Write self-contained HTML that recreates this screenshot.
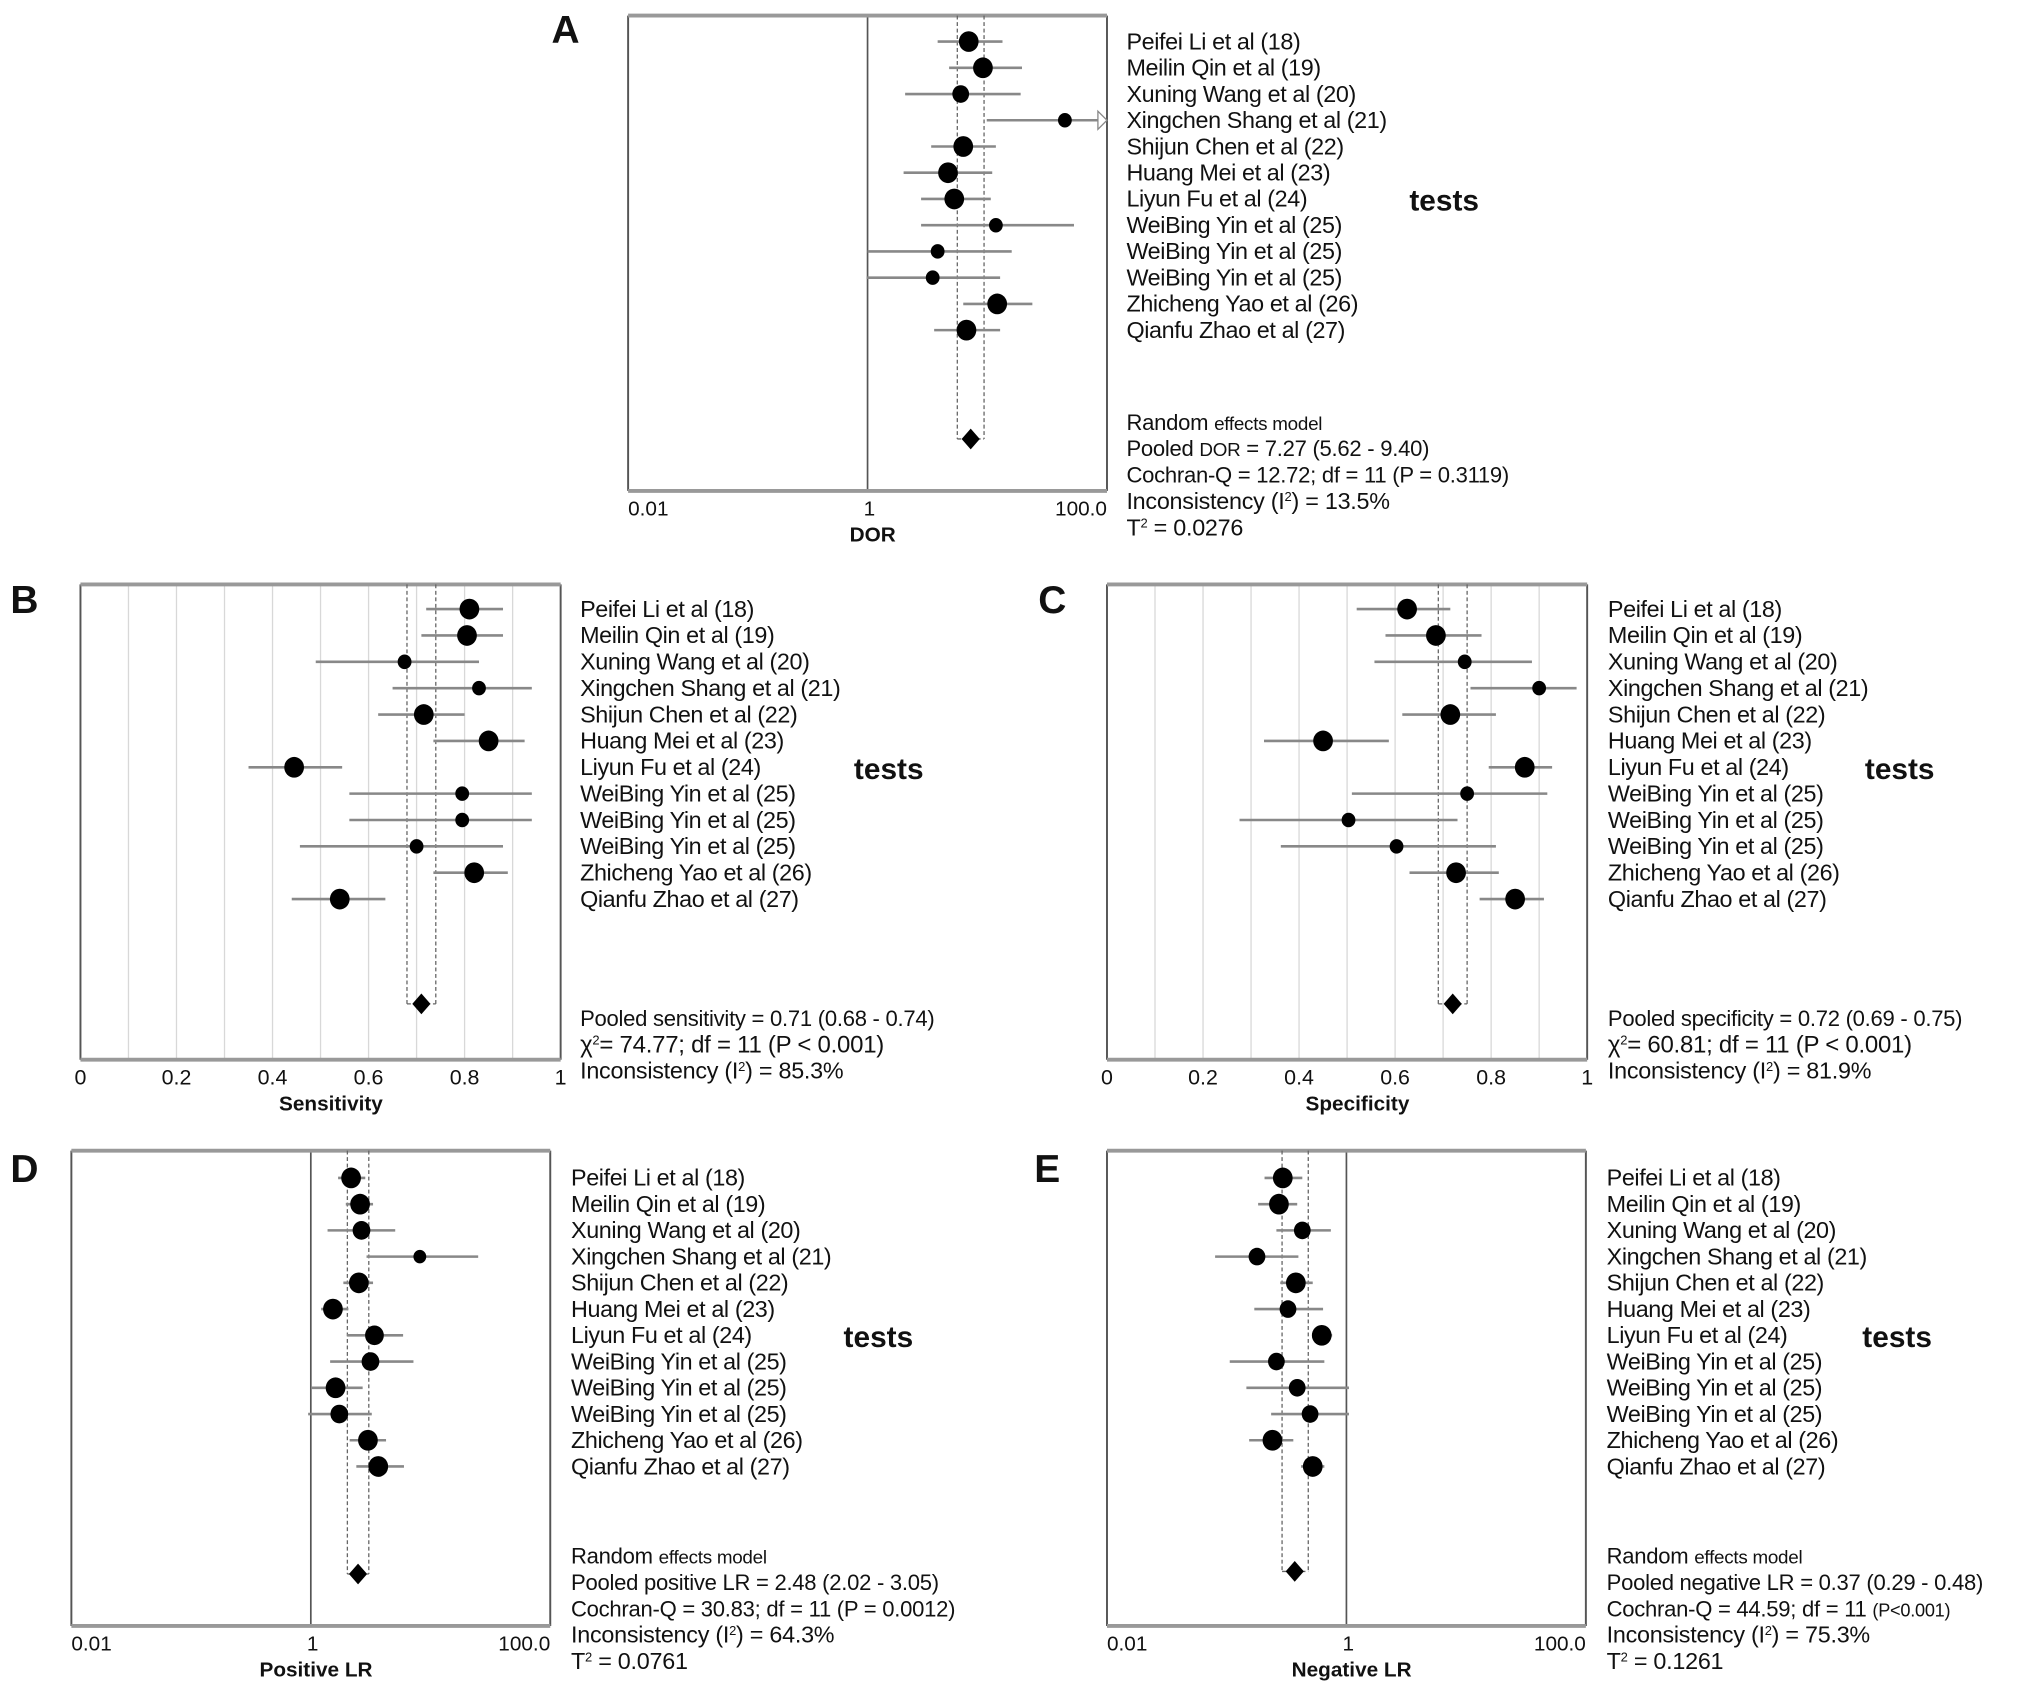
<!DOCTYPE html>
<html><head><meta charset="utf-8"><style>
html,body{margin:0;padding:0;background:#fff;}
svg{display:block;}
text{font-family:"Liberation Sans",Arial,sans-serif;fill:#111;}
</style></head><body>
<svg id="fig" width="2031" height="1687" viewBox="0 0 1565 1299" preserveAspectRatio="none" xmlns="http://www.w3.org/2000/svg"></svg>
<script>
const studies=["Peifei Li et al (18)","Meilin Qin et al (19)","Xuning Wang et al (20)","Xingchen Shang et al (21)","Shijun Chen et al (22)","Huang Mei et al (23)","Liyun Fu et al (24)","WeiBing Yin et al (25)","WeiBing Yin et al (25)","WeiBing Yin et al (25)","Zhicheng Yao et al (26)","Qianfu Zhao et al (27)"];

const dorEst=[7.0,9.2,6.0,44.5,6.3,4.7,5.3,11.8,3.85,3.5,12.1,6.7];
const dorLo=[3.85,4.8,2.06,9.9,3.4,2.0,2.8,2.8,1.0,0.98,6.3,3.6];
const dorHi=[13.4,19.5,19,150,11.8,11.0,10.7,53,16,12.8,23.8,12.8];
const dorWeight=[1,1,0.85,0.7,1,1,1,0.7,0.7,0.7,1,1];
const dorPooled=[7.27,5.62,9.40];

const senEst=[0.81,0.805,0.675,0.83,0.715,0.85,0.445,0.795,0.795,0.70,0.82,0.54];
const senLo=[0.72,0.71,0.49,0.65,0.62,0.735,0.35,0.56,0.56,0.457,0.735,0.44];
const senHi=[0.88,0.88,0.83,0.94,0.80,0.925,0.545,0.94,0.94,0.88,0.89,0.635];
const senWeight=[1,1,0.7,0.7,1,1,1,0.7,0.7,0.7,1,1];
const senPooled=[0.71,0.68,0.74];

const speEst=[0.625,0.685,0.745,0.90,0.715,0.45,0.87,0.75,0.503,0.603,0.727,0.85];
const speLo=[0.52,0.58,0.557,0.757,0.615,0.327,0.795,0.51,0.276,0.362,0.63,0.776];
const speHi=[0.715,0.78,0.885,0.978,0.81,0.587,0.927,0.917,0.73,0.81,0.816,0.91];
const speWeight=[1,1,0.7,0.7,1,1,1,0.7,0.7,0.7,1,1];
const spePooled=[0.72,0.69,0.75];

const plrEst=[2.17,2.58,2.65,8.14,2.52,1.53,3.4,3.15,1.61,1.73,3.0,3.66];
const plrLo=[1.69,1.96,1.38,2.92,1.87,1.22,2.01,1.45,1.02,0.95,2.11,2.4];
const plrHi=[2.85,3.31,5.07,25,3.31,2.06,5.9,7.2,2.71,3.23,4.25,6.0];
const plrWeight=[1,1,0.9,0.65,1,1,0.95,0.9,1,0.9,1,1];
const plrPooled=[2.48,2.02,3.05];

const nlrEst=[0.294,0.273,0.428,0.179,0.378,0.325,0.622,0.26,0.388,0.497,0.241,0.523];
const nlrLo=[0.207,0.183,0.26,0.080,0.28,0.17,0.523,0.106,0.146,0.235,0.154,0.418];
const nlrHi=[0.428,0.388,0.741,0.397,0.523,0.638,0.76,0.654,1.05,1.05,0.36,0.654];
const nlrWeight=[1,1,0.85,0.85,1,0.85,1,0.85,0.85,0.85,1,1];
const nlrPooled=[0.37,0.29,0.48];

const linTicks=["0","0.2","0.4","0.6","0.8","1"];
const logTicks=["0.01","1","100.0"];

const NS="http://www.w3.org/2000/svg";
const svg=document.getElementById('fig');
function mk(tag,attrs,parent,txt){const e=document.createElementNS(NS,tag);for(const k in attrs)e.setAttribute(k,attrs[k]);if(txt!==undefined)e.textContent=txt;(parent||svg).appendChild(e);return e;}

function panel(c){
  const g=mk('g',{});
  
  
  const L=c.x0,R=c.x1,T=c.y0,B=c.y1;
  const sx=c.log?(v=>L+(Math.log10(v)+2)/4*(R-L)):(v=>L+v*(R-L));
  if(!c.log){for(let i=1;i<10;i++){const gl=mk('line',{x1:L+i/10*(R-L),x2:L+i/10*(R-L),y1:T,y2:B,stroke:'#d8d8d8','stroke-width':1},g);}}
  else{const ref=mk('line',{x1:sx(1),x2:sx(1),y1:T,y2:B,stroke:'#555','stroke-width':1.3},g);}
  mk('line',{x1:L,x2:L,y1:T,y2:B,stroke:'#555','stroke-width':1.5},g);
  mk('line',{x1:R,x2:R,y1:T,y2:B,stroke:'#555','stroke-width':1.5},g);
  mk('line',{x1:L,x2:R,y1:T,y2:T,stroke:'#999','stroke-width':3},g);
  mk('line',{x1:L,x2:R,y1:B,y2:B,stroke:'#999','stroke-width':3},g);
  const pl=sx(c.pooled[1]),ph=sx(c.pooled[2]),pe=sx(c.pooled[0]);
  for(const xx of [pl,ph]){const d=mk('line',{x1:xx,x2:xx,y1:T,y2:c.dy,stroke:'#666','stroke-width':1,'stroke-dasharray':'3,2'},g);}
  mk('line',{x1:pl,x2:ph,y1:c.dy,y2:c.dy,stroke:'#666','stroke-width':1,'stroke-dasharray':'3,2'},g);
  const dia=mk('polygon',{points:`${pe},${c.dy-8} ${pe+7},${c.dy} ${pe},${c.dy+8} ${pe-7},${c.dy}`,fill:'#000'},g);
  
  for(let i=0;i<studies.length;i++){
    const y=c.ry+i*c.rs;
    let hi=c.hi[i],lo=c.lo[i];
    const xl=Math.max(L,sx(lo));let xh=sx(hi);let arrow=false;
    if(xh>R){xh=R-7;arrow=true;}
    const ci=mk('line',{x1:xl,x2:xh,y1:y,y2:y,stroke:'#888','stroke-width':2},g);
    
    if(arrow){const a=mk('polygon',{points:`${R-7},${y-7} ${R},${y} ${R-7},${y+7}`,fill:'#fff',stroke:'#888','stroke-width':1},g);}
    const r=7.6*c.w[i];
    const p=mk('ellipse',{cx:sx(c.est[i]),cy:y,rx:r,ry:r*1.05,fill:'#000'},g);
    
    const t=mk('text',{x:c.lx,y:y+6,'font-size':18,'letter-spacing':-0.3},g,studies[i]);
    
  }
  const tt=mk('text',{x:c.tx,y:c.ry+6*c.rs+9,'font-size':23,'font-weight':'bold'},g,'tests');
  
  const letter=mk('text',{x:c.lettx,y:c.letty,'font-size':30,'font-weight':'bold'},g,c.id);
  
  const ty=B+19;
  if(c.log){
    const pos=[[L,'start'],[sx(1)-3,'start'],[R,'end']];
    logTicks.forEach((s,k)=>{const e=mk('text',{x:pos[k][0],y:ty,'font-size':16,'text-anchor':pos[k][1]},g,s);});
  } else {
    linTicks.forEach((s,k)=>{const e=mk('text',{x:L+k*0.2*(R-L),y:ty,'font-size':16.5,'text-anchor':'middle'},g,s);});
  }
  const xt=mk('text',{x:c.log?sx(1)+4:(L+R)/2+8,y:B+39,'font-size':16,'font-weight':'bold','text-anchor':'middle'},g,c.xlabel);
  
  c.stats.forEach((s,k)=>{const e=mk('text',{x:c.lx,y:c.sy+k*20.3,'font-size':s[1]||17,'letter-spacing':-0.2},g);e.innerHTML=s[0];});
}

panel({id:'A',log:true,x0:484,x1:853,y0:12,y1:378,ry:32,rs:20.2,dy:338,lx:868,tx:1086,lettx:425,letty:33,
  est:dorEst,lo:dorLo,hi:dorHi,w:dorWeight,pooled:dorPooled,xlabel:'DOR',sy:331,
  stats:[['Random <tspan font-size="14.5">effects model</tspan>'],['Pooled <tspan font-size="14.5">DOR</tspan> = 7.27 (5.62 - 9.40)'],['Cochran-Q = 12.72; df = 11 (P = 0.3119)'],['Inconsistency (I<tspan font-size="10" dy="-6">2</tspan><tspan dy="6">) = 13.5%</tspan>',18],['T<tspan font-size="10" dy="-6">2</tspan><tspan dy="6"> = 0.0276</tspan>',18]]});
panel({id:'B',log:false,x0:62,x1:432,y0:450,y1:816,ry:469,rs:20.3,dy:773,lx:447,tx:658,lettx:8,letty:472,
  est:senEst,lo:senLo,hi:senHi,w:senWeight,pooled:senPooled,xlabel:'Sensitivity',sy:790,
  stats:[['Pooled  sensitivity = 0.71 (0.68 - 0.74)'],['χ<tspan font-size="10" dy="-6">2</tspan><tspan dy="6">= 74.77; df = 11 (P &lt; 0.001)</tspan>',18.5],['Inconsistency (I<tspan font-size="10" dy="-6">2</tspan><tspan dy="6">) = 85.3%</tspan>',18]]});
panel({id:'C',log:false,x0:853,x1:1223,y0:450,y1:816,ry:469,rs:20.3,dy:773,lx:1239,tx:1437,lettx:800,letty:472,
  est:speEst,lo:speLo,hi:speHi,w:speWeight,pooled:spePooled,xlabel:'Specificity',sy:790,
  stats:[['Pooled  specificity = 0.72 (0.69 - 0.75)'],['χ<tspan font-size="10" dy="-6">2</tspan><tspan dy="6">= 60.81; df = 11 (P &lt; 0.001)</tspan>',18.5],['Inconsistency (I<tspan font-size="10" dy="-6">2</tspan><tspan dy="6">) = 81.9%</tspan>',18]]});
panel({id:'D',log:true,x0:55,x1:424,y0:886,y1:1252,ry:907,rs:20.2,dy:1212,lx:440,tx:650,lettx:8,letty:910,
  est:plrEst,lo:plrLo,hi:plrHi,w:plrWeight,pooled:plrPooled,xlabel:'Positive LR',sy:1204,
  stats:[['Random <tspan font-size="14.5">effects model</tspan>'],['Pooled positive LR = 2.48 (2.02 - 3.05)'],['Cochran-Q = 30.83; df = 11 (P = 0.0012)'],['Inconsistency (I<tspan font-size="10" dy="-6">2</tspan><tspan dy="6">) = 64.3%</tspan>',18],['T<tspan font-size="10" dy="-6">2</tspan><tspan dy="6"> = 0.0761</tspan>',18]]});
panel({id:'E',log:true,x0:853,x1:1222,y0:886,y1:1252,ry:907,rs:20.2,dy:1210,lx:1238,tx:1435,lettx:797,letty:910,
  est:nlrEst,lo:nlrLo,hi:nlrHi,w:nlrWeight,pooled:nlrPooled,xlabel:'Negative LR',sy:1204,
  stats:[['Random <tspan font-size="14.5">effects model</tspan>'],['Pooled  negative LR = 0.37 (0.29 - 0.48)'],['Cochran-Q = 44.59; df = 11 <tspan font-size="14">(P&lt;0.001)</tspan>'],['Inconsistency (I<tspan font-size="10" dy="-6">2</tspan><tspan dy="6">) = 75.3%</tspan>',18],['T<tspan font-size="10" dy="-6">2</tspan><tspan dy="6"> = 0.1261</tspan>',18]]});
</script>
</body></html>
